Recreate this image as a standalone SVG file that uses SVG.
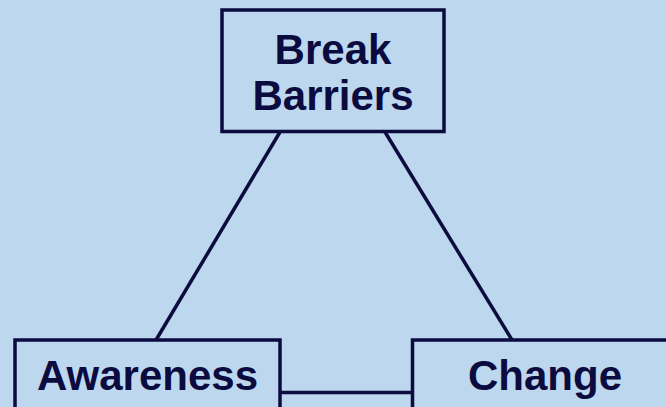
<svg xmlns="http://www.w3.org/2000/svg" width="666" height="407" viewBox="0 0 666 407">
  <style>
    .box { fill: none; stroke: #0B0B3F; stroke-width: 3.5; }
    .link { stroke: #0B0B3F; stroke-width: 3.5; fill: none; }
    .label { font-family: "Liberation Sans", Arial, sans-serif; font-weight: bold; font-size: 42px; fill: #0B0B3F; text-anchor: middle; }
  </style>
  <rect width="666" height="407" fill="#BDD7EE"/>
  <g id="connectors">
    <line class="link" x1="280" y1="132" x2="156" y2="340"/>
    <line class="link" x1="385" y1="132" x2="512" y2="340"/>
    <line class="link" x1="280" y1="392.5" x2="412.5" y2="392.5"/>
  </g>
  <g id="break-barriers">
    <rect class="box" x="222" y="10" width="222" height="121.5"/>
    <text class="label" x="333" y="64">Break</text>
    <text class="label" x="333" y="110">Barriers</text>
  </g>
  <g id="awareness">
    <rect class="box" x="15" y="340" width="265" height="120"/>
    <text class="label" x="147.5" y="390">Awareness</text>
  </g>
  <g id="change">
    <rect class="box" x="412.5" y="340" width="265" height="120"/>
    <text class="label" x="545" y="390">Change</text>
  </g>
</svg>
